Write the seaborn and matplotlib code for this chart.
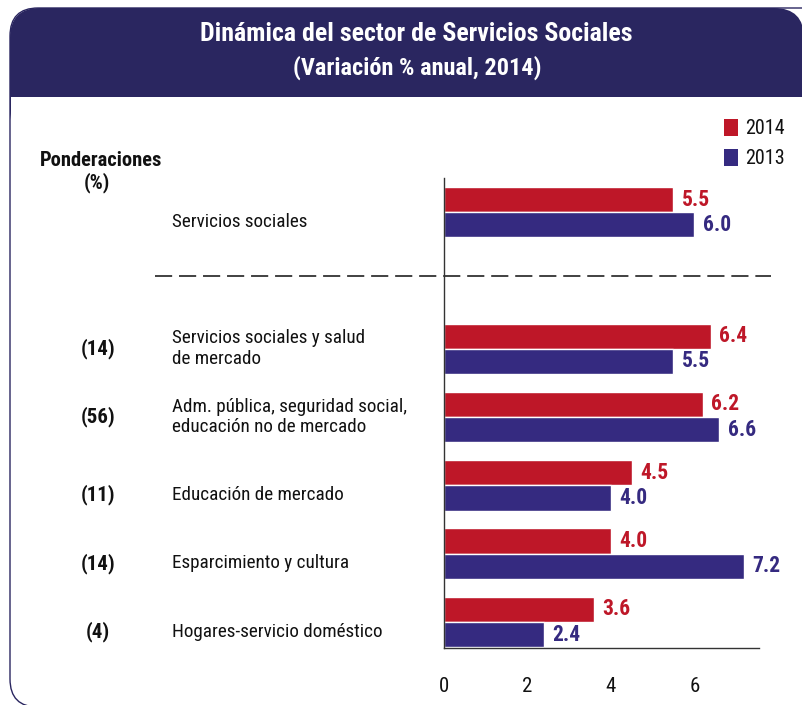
import numpy as np
import pandas as pd
import matplotlib.pyplot as plt
import seaborn as sns
from matplotlib import font_manager
from matplotlib.patches import FancyBboxPatch, Rectangle
from matplotlib.lines import Line2D
from matplotlib.transforms import blended_transform_factory

# data
categories = ["Servicios sociales",
              " ",
              "Servicios sociales y salud\nde mercado",
              "Adm. pública, seguridad social,\neducación no de mercado",
              "Educación de mercado",
              "Esparcimiento y cultura",
              "Hogares-servicio doméstico"]
weights = ["", "", "(14)", "(56)", "(11)", "(14)", "(4)"]
val_2014 = [5.5, np.nan, 6.4, 6.2, 4.5, 4.0, 3.6]
val_2013 = [6.0, np.nan, 5.5, 6.6, 4.0, 7.2, 2.4]
years = ["2014", "2013"]
colors = {"2014": "#BE1728", "2013": "#352A80"}
header_col = "#2A2660"

df = pd.concat([
    pd.DataFrame({"cat": categories, "val": val_2014, "year": "2014"}),
    pd.DataFrame({"cat": categories, "val": val_2013, "year": "2013"}),
], ignore_index=True)

sns.set_style("white")

# pick a narrow face if one is installed
ttf = font_manager.fontManager.ttflist
names = {f.name for f in ttf}
stretch = "normal"
if "Liberation Sans Narrow" in names:
    fam = "Liberation Sans Narrow"
elif "Roboto Condensed" in names:
    fam = "Roboto Condensed"
elif any(f.name == "DejaVu Sans" and f.stretch == "condensed" for f in ttf):
    fam = "DejaVu Sans"
    stretch = "condensed"
else:
    fam = "Roboto"
plt.rcParams['font.family'] = [fam, 'DejaVu Sans']
plt.rcParams['font.stretch'] = stretch

W, H = 803, 705
fig = plt.figure(figsize=(W / 100, H / 100), dpi=100)


def fx(x):
    return x / W


def fy(y):
    return 1 - y / H


# frame: header band with rounded corners, thin border
inch = fig.dpi_scale_trans
fig.add_artist(FancyBboxPatch((0.10, (H - 140) / 100), 7.94, 1.32,
                              boxstyle="round,pad=0,rounding_size=0.30",
                              fc=header_col, ec="none", transform=inch, zorder=-10))
fig.add_artist(Rectangle((0.11, -0.1), 8.5, (H - 97) / 100 + 0.1,
                         fc="white", ec="none", transform=inch, zorder=-9))
fig.add_artist(FancyBboxPatch((0.10, -0.02), 8.6, (H - 8) / 100 + 0.02,
                              boxstyle="round,pad=0,rounding_size=0.28",
                              fc="none", ec=header_col, lw=1.0, transform=inch, zorder=-8))

fig.text(fx(416), fy(34), "Dinámica del sector de Servicios Sociales",
         color="white", fontweight="bold", fontsize=18.6, ha="center", va="center")
fig.text(fx(417), fy(68), "(Variación % anual, 2014)",
         color="white", fontweight="bold", fontsize=17.5, ha="center", va="center")

ax = fig.add_axes([fx(444), fy(648), fx(759) - fx(444), fy(178) - fy(648)])
ax.patch.set_alpha(0)
sns.barplot(data=df, y="cat", x="val", hue="year", order=categories,
            hue_order=years, palette=colors, orient="h", width=0.74,
            saturation=1, errorbar=None, legend=False, ax=ax)

ax.set_xlim(0, 7.55)
ax.set_ylim(6.38, -0.5)
ax.set_xlabel("")
ax.set_ylabel("")
ax.set_yticks([])
ax.set_xticks([0, 2, 4, 6])
ax.tick_params(axis="x", length=0, pad=21, labelsize=15, colors="#111111")
for s in ["top", "right"]:
    ax.spines[s].set_visible(False)
for s in ["left", "bottom"]:
    ax.spines[s].set_color("#333333")
    ax.spines[s].set_linewidth(1.0)

for cont, yr in zip(ax.containers, years):
    ax.bar_label(cont, fmt="%.1f", padding=6, color=colors[yr],
                 fontweight="bold", fontsize=15.5)

# labels to the left of the axes
tr = blended_transform_factory(fig.transFigure, ax.transData)
for i, (cat, w) in enumerate(zip(categories, weights)):
    y = i if "\n" in cat else i + 0.14
    ax.text(fx(172), y, cat, transform=tr, ha="left", va="center",
            fontsize=13.8, linespacing=1.2, color="#111111")
    if w:
        ax.text(fx(98), y, w, transform=tr, ha="center", va="center",
                fontsize=15, fontweight="bold", color="#111111")

fig.text(fx(101), fy(160), "Ponderaciones", fontsize=14.8, fontweight="bold",
         ha="center", va="center", color="#111111")
fig.text(fx(97), fy(183), "(%)", fontsize=14.8, fontweight="bold",
         ha="center", va="center", color="#111111")

# dashed separator
fig.add_artist(Line2D([fx(155), fx(771)], [0.93, 0.93], transform=tr,
                      color="#333333", lw=1.3, linestyle=(0, (9.5, 3.8))))

# legend
for yr, ytop in zip(years, [119, 149]):
    fig.add_artist(Rectangle((7.24, (H - ytop - 17) / 100), 0.14, 0.17,
                             fc=colors[yr], ec="none", transform=inch))
    fig.text(fx(745), fy(ytop + 9), yr, fontsize=14.5, ha="left", va="center",
             color="#111111")

fig.savefig("out.png", dpi=100)
